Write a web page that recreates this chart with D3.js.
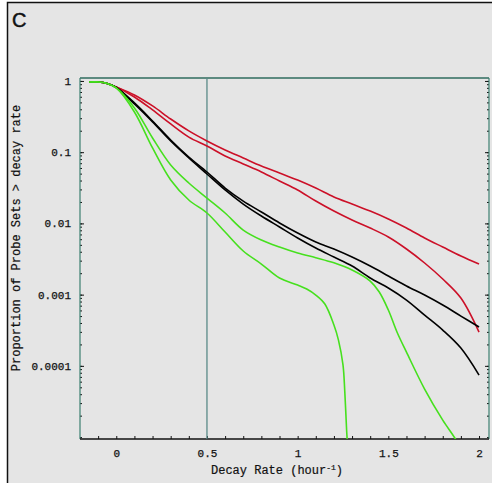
<!DOCTYPE html>
<html><head><meta charset="utf-8">
<script src="https://cdn.jsdelivr.net/npm/d3@7"></script>
<style>body{margin:0;background:#fff} svg{display:block}</style>
</head><body>
<svg id="chart" width="492" height="483"></svg>
<script>
// ---- data ----
const xTicks = [0, 0.5, 1, 1.5, 2];
const xTickLabels = ["0", "0.5", "1", "1.5", "2"];
const yTicks = [1, 0.1, 0.01, 0.001, 0.0001];
const yTickLabels = ["1", "0.1", "0.01", "0.001", "0.0001"];
const cutoff = 0.5;

const xGrid = [-0.15,-0.1,-0.05,0,0.1,0.2,0.3,0.4,0.5,0.6,0.7,0.8,0.9,1.0,1.1,1.2,1.3,1.4,1.5,1.6,1.7,1.8,1.9,2.0];
const redUpper = [0.968,0.968,0.923,0.823,0.636,0.446,0.292,0.199,0.1437,0.1074,0.0829,0.0640,0.0510,0.0407,0.0314,0.0235,0.0187,0.0149,0.01153,0.00861,0.00624,0.00466,0.00349,0.00269];
const redLower = [0.968,0.968,0.923,0.823,0.596,0.392,0.249,0.163,0.1222,0.0885,0.0683,0.0527,0.0394,0.0295,0.0206,0.0149,0.01116,0.00861,0.00644,0.00437,0.00278,0.001656,0.000896,0.000298];
const blackUpper = [0.968,0.968,0.923,0.810,0.491,0.274,0.1484,0.0856,0.0527,0.0314,0.0206,0.01446,0.01014,0.00733,0.00548,0.00437,0.00337,0.00252,0.001825,0.001320,0.000987,0.000715,0.000500,0.000351];
const blackLower = [0.968,0.968,0.923,0.810,0.475,0.266,0.1436,0.0829,0.0494,0.0295,0.0187,0.0127,0.00890,0.00624,0.00451,0.00337,0.00252,0.00171,0.001238,0.000840,0.000516,0.000318,0.000178,0.0000743];

const greenUpperX = [-0.15,-0.1,-0.05,0,0.1,0.2,0.3,0.4,0.5,0.6,0.7,0.8,0.9,1.0,1.1,1.2,1.3,1.4,1.45,1.5,1.55,1.6,1.7,1.8,1.87,1.9];
const greenUpper = [0.968,0.968,0.923,0.797,0.418,0.1582,0.0661,0.0369,0.0227,0.0140,0.00807,0.00585,0.00466,0.00384,0.00330,0.00280,0.00222,0.001552,0.001088,0.000608,0.000289,0.000156,0.0000472,0.0000173,0.0000094,0.0000066];
const greenLowerX = [-0.15,-0.1,-0.05,0,0.1,0.2,0.3,0.4,0.5,0.6,0.7,0.8,0.9,1.0,1.05,1.1,1.15,1.2,1.225,1.25,1.26,1.27,1.275];
const greenLower = [0.968,0.968,0.923,0.797,0.367,0.1146,0.0407,0.0213,0.0140,0.00757,0.00410,0.00269,0.00171,0.001364,0.001199,0.000987,0.000738,0.000374,0.000230,0.000103,0.0000428,0.0000125,0.0000077];

const series = [
  {x: xGrid, y: redUpper, color: "#cc1028"},
  {x: xGrid, y: redLower, color: "#cc1028"},
  {x: xGrid, y: blackUpper, color: "#000000"},
  {x: xGrid, y: blackLower, color: "#000000"},
  {x: greenUpperX, y: greenUpper, color: "#46e01e"},
  {x: greenLowerX, y: greenLower, color: "#46e01e"}
];

// ---- layout ----
const svg = d3.select("#chart");
const M = {l: 80, r: 489, t: 78, b: 439};
const bg = "#e5e5e5";
const frameCol = "#2f6b5e";
const mono = "'Liberation Mono', 'DejaVu Sans Mono', monospace";

svg.append("rect").attr("x", 7.5).attr("y", 2.5).attr("width", 600).attr("height", 600)
  .attr("fill", bg).attr("stroke", "#111").attr("stroke-width", 1.5);

svg.append("text").attr("x", 12).attr("y", 27).text("C")
  .attr("font-family", "'Liberation Sans', Arial, sans-serif").attr("font-size", 20)
  .attr("fill", "#111").attr("stroke", "#111").attr("stroke-width", 0.5);

const x = d3.scaleLinear().domain([-0.2, 2.055]).range([M.l, M.r]);
const y = d3.scaleLog().domain([9.4e-6, 1.1]).range([M.b, M.t]);

// minor log ticks
const minorY = [];
[-5, -4, -3, -2, -1, 0].forEach(e => { for (let k = 1; k <= 9; k++) { const v = k * Math.pow(10, e); if (v >= 9.4e-6 && v <= 1.1) minorY.push(v); } });

function tickAxis(axis, tx, size, vals) {
  const g = svg.append("g").attr("transform", `translate(${tx},0)`)
    .call(axis.tickValues(vals).tickSize(size).tickFormat(""));
  g.select(".domain").remove();
  g.selectAll("line").attr("stroke", "#111").attr("stroke-width", 1);
  return g;
}
tickAxis(d3.axisLeft(y), M.l, -2, minorY);
tickAxis(d3.axisLeft(y), M.l, -4, yTicks);
tickAxis(d3.axisRight(y), M.r, -2, minorY);
tickAxis(d3.axisRight(y), M.r, -4, yTicks);

// x minor ticks
const minorX = d3.range(-1, 21).map(i => i / 10);
const gxm = svg.append("g").attr("transform", `translate(0,${M.b})`)
  .call(d3.axisBottom(x).tickValues(minorX).tickSize(-3).tickFormat(""));
gxm.select(".domain").remove();
gxm.selectAll("line").attr("stroke", "#111");

// y labels
const gy = svg.append("g").attr("transform", `translate(${M.l},0)`)
  .call(d3.axisLeft(y).tickValues(yTicks).tickFormat((d, i) => yTickLabels[i]).tickSize(0).tickPadding(9));
gy.select(".domain").remove();
gy.selectAll("text").attr("font-family", mono).attr("font-size", 11).attr("fill", "#111")
  .attr("stroke", "#111").attr("stroke-width", 0.25);

// x labels
const gx = svg.append("g").attr("transform", `translate(0,${M.b})`)
  .call(d3.axisBottom(x).tickValues(xTicks).tickFormat((d, i) => xTickLabels[i]).tickSize(0).tickPadding(10));
gx.select(".domain").remove();
gx.selectAll("text").attr("font-family", mono).attr("font-size", 11).attr("fill", "#111")
  .attr("stroke", "#111").attr("stroke-width", 0.25);

// frame
svg.append("line").attr("x1", M.l).attr("x2", M.r).attr("y1", M.t).attr("y2", M.t).attr("stroke", frameCol).attr("stroke-width", 1.3);
svg.append("line").attr("x1", M.l).attr("x2", M.l).attr("y1", M.t).attr("y2", M.b).attr("stroke", "#3b7f70").attr("stroke-width", 1.2);
svg.append("line").attr("x1", M.r).attr("x2", M.r).attr("y1", M.t).attr("y2", M.b).attr("stroke", "#3b7f70").attr("stroke-width", 1.2);
svg.append("line").attr("x1", M.l).attr("x2", M.r).attr("y1", M.b).attr("y2", M.b).attr("stroke", "#111").attr("stroke-width", 1.5);

// cutoff line
svg.append("line").attr("x1", x(cutoff)).attr("x2", x(cutoff)).attr("y1", M.t).attr("y2", M.b)
  .attr("stroke", "#5a8a88").attr("stroke-width", 1.3);

// curves
svg.append("clipPath").attr("id", "clip").append("rect")
  .attr("x", M.l).attr("y", M.t).attr("width", M.r - M.l).attr("height", M.b - M.t);
const line = d3.line().x(d => x(d[0])).y(d => y(d[1])).curve(d3.curveCatmullRom.alpha(0.5));
const gc = svg.append("g").attr("clip-path", "url(#clip)");
series.forEach(s => {
  gc.append("path").datum(s.x.map((v, i) => [v, s.y[i]]))
    .attr("d", line).attr("fill", "none").attr("stroke", s.color).attr("stroke-width", 1.6);
});

// axis titles
svg.append("text").attr("transform", "translate(17,238) rotate(-90)")
  .attr("text-anchor", "middle").attr("dominant-baseline", "central")
  .attr("font-family", mono).attr("font-size", 12).attr("fill", "#111")
  .attr("stroke", "#111").attr("stroke-width", 0.2)
  .text("Proportion of Probe Sets > decay rate");
const xt = svg.append("text").attr("x", 277).attr("y", 474).attr("text-anchor", "middle")
  .attr("font-family", mono).attr("font-size", 12).attr("fill", "#111")
  .attr("stroke", "#111").attr("stroke-width", 0.2);
xt.append("tspan").text("Decay Rate (hour");
xt.append("tspan").attr("font-size", 8).attr("dy", -4).text("-1");
xt.append("tspan").attr("dy", 4).text(")");
</script>
</body></html>
